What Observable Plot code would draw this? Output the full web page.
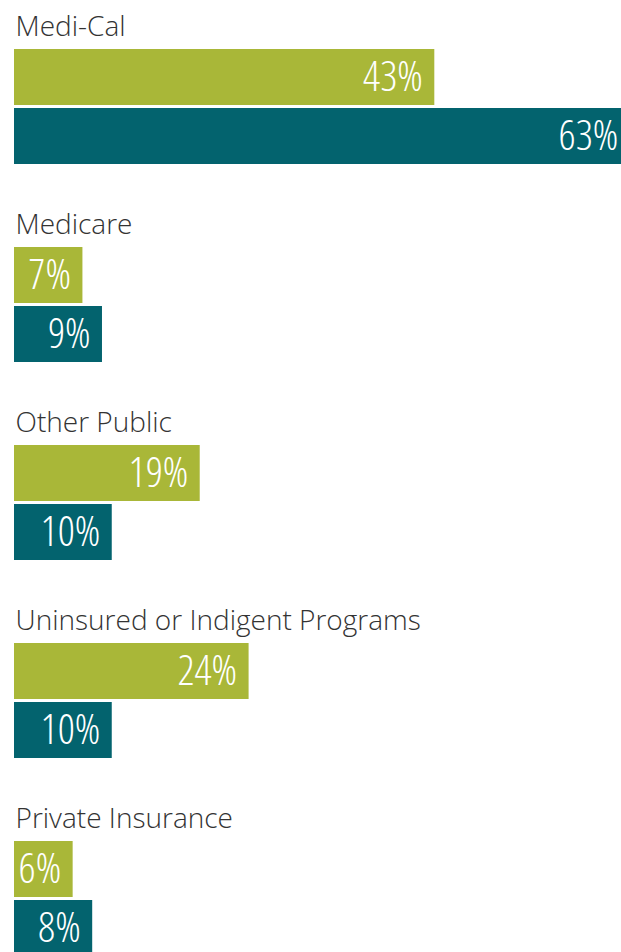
<!DOCTYPE html>
<html>
<head>
<meta charset="utf-8">
<script src="https://cdn.jsdelivr.net/npm/d3@7"></script>
<script src="https://cdn.jsdelivr.net/npm/@observablehq/plot@0.6"></script>
<style>
  html, body { margin: 0; padding: 0; background: #fff; overflow: hidden; }
  #chart svg { display: block; }
</style>
</head>
<body>
<div id="chart"></div>
<script>
const categories = ["Medi-Cal", "Medicare", "Other Public", "Uninsured or Indigent Programs", "Private Insurance"];
const seriesNames = ["Series 1", "Series 2"];
const series1Values = [43, 7, 19, 24, 6];
const series2Values = [63, 9, 10, 10, 8];
const seriesColors = ["#a9b738", "#03636e"];

const rows = [];
categories.forEach((c, i) => {
  rows.push({category: c, series: seriesNames[0], value: series1Values[i]});
  rows.push({category: c, series: seriesNames[1], value: series2Values[i]});
});

const W = 621, H = 994, VISIBLE = 952;

const chart = Plot.plot({
  width: W,
  height: H,
  marginTop: 0,
  marginBottom: 0,
  marginLeft: 14,
  marginRight: 0,
  style: {background: "#fff", overflow: "hidden"},
  x: {domain: [0, 62.1], axis: null},
  fy: {domain: categories, padding: 0, axis: null},
  y: {domain: seriesNames, axis: null, paddingInner: 0.05, paddingOuter: 0, insetTop: 46, insetBottom: 35.75},
  color: {domain: seriesNames, range: seriesColors},
  marks: [
    Plot.barX(rows, {x: "value", y: "series", fy: "category", fill: "series"}),
    Plot.text(rows, {
      x: "value", y: "series", fy: "category",
      text: d => `${d.value}%`,
      textAnchor: "end", dx: -12, dy: 0,
      fill: "white",
      fontSize: 42,
      fontWeight: 350,
      fontFamily: "'Open Sans', sans-serif"
    }),
    Plot.text(categories, {
      fy: d => d,
      text: d => d,
      frameAnchor: "top-left",
      lineAnchor: "bottom",
      dy: 33, dx: 1,
      fill: "#333",
      fontSize: 28,
      fontWeight: 300,
      fontFamily: "'Open Sans', 'Noto Sans', sans-serif"
    })
  ]
});

// condensed face for the in-bar value labels
d3.select(chart).selectAll('g[fill="white"]').style("font-stretch", "85%");

chart.setAttribute("height", VISIBLE);
chart.setAttribute("viewBox", `0 0 ${W} ${VISIBLE}`);
document.getElementById("chart").appendChild(chart);
</script>
</body>
</html>
